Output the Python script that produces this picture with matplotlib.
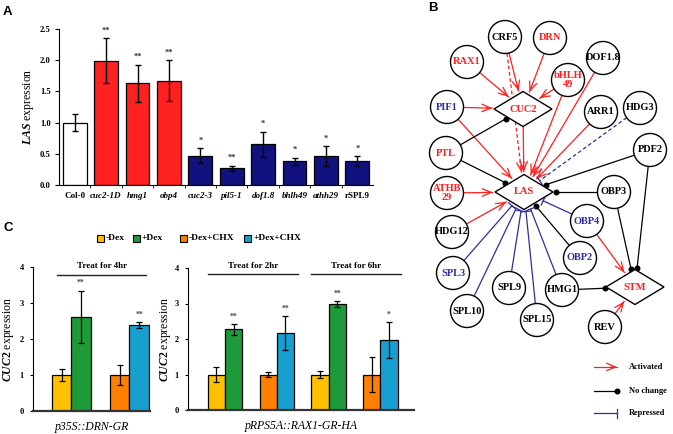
import numpy as np
import matplotlib.pyplot as plt
from matplotlib.patches import Circle, Polygon, Rectangle

plt.rcParams['font.family'] = 'Liberation Serif'
plt.rcParams['font.weight'] = 'bold'
plt.rcParams['mathtext.fontset'] = 'custom'
plt.rcParams['mathtext.it'] = 'Liberation Serif:italic:bold'
plt.rcParams['mathtext.rm'] = 'Liberation Serif:bold'
plt.rcParams['axes.linewidth'] = 0.8

W, H = 673, 434
RED = '#ff2020'
NAVY = '#12127e'
BLUE = '#2e2e9e'

# panel A - LAS expression in the mutants
a_lines = ['Col-0', 'cuc2-1D', 'hmg1', 'obp4', 'cuc2-3', 'pil5-1', 'dof1.8', 'bhlh49', 'athh29', 'rSPL9']
a_vals = [1.00, 1.99, 1.63, 1.67, 0.47, 0.27, 0.65, 0.38, 0.46, 0.38]
a_errs = [0.14, 0.36, 0.30, 0.33, 0.12, 0.04, 0.20, 0.06, 0.16, 0.08]
a_stars = ['', '**', '**', '**', '*', '**', '*', '*', '*', '*']
a_kind = ['wt', 'up', 'up', 'up', 'down', 'down', 'down', 'down', 'down', 'down']
a_italic = [False, True, True, True, True, True, True, True, True, False]

# panel C - CUC2 expression after induction
c_conds = ['-Dex', '+Dex', '-Dex+CHX', '+Dex+CHX']
c_colors = ['#ffc000', '#1f9a3a', '#ff8000', '#17a0cf']
drn_vals = [1.0, 2.62, 1.0, 2.38]
drn_errs = [0.18, 0.72, 0.28, 0.08]
drn_stars = ['', '**', '', '**']
rax2_vals = [1.0, 2.27, 1.0, 2.17]
rax2_errs = [0.20, 0.15, 0.07, 0.48]
rax2_stars = ['', '**', '', '**']
rax6_vals = [1.0, 2.98, 1.0, 1.97]
rax6_errs = [0.10, 0.08, 0.50, 0.50]
rax6_stars = ['', '**', '', '*']

# panel B - network (name, label, x, y, label colour), pixel layout
net_nodes = [
    ('CRF5', 'CRF5', 505, 37, 'black'),
    ('DRN', 'DRN', 550, 38, RED),
    ('RAX1', 'RAX1', 467, 62, RED),
    ('DOF1.8', 'DOF1.8', 603, 58, 'black'),
    ('bHLH49', 'bHLH\n49', 568, 80, RED),
    ('PIF1', 'PIF1', 447, 107, BLUE),
    ('ARR1', 'ARR1', 601, 112, 'black'),
    ('HDG3', 'HDG3', 640, 108, 'black'),
    ('PTL', 'PTL', 446, 153, RED),
    ('PDF2', 'PDF2', 650, 150, 'black'),
    ('ATHB29', 'ATHB\n29', 447, 193, RED),
    ('OBP3', 'OBP3', 614, 192, 'black'),
    ('HDG12', 'HDG12', 452, 232, 'black'),
    ('OBP4', 'OBP4', 587, 221, BLUE),
    ('OBP2', 'OBP2', 580, 258, BLUE),
    ('SPL3', 'SPL3', 453, 273, BLUE),
    ('SPL9', 'SPL9', 509, 288, 'black'),
    ('HMG1', 'HMG1', 562, 290, 'black'),
    ('SPL10', 'SPL10', 467, 311, 'black'),
    ('SPL15', 'SPL15', 537, 320, 'black'),
    ('REV', 'REV', 605, 327, 'black'),
]
net_diamonds = [('CUC2', 523, 109), ('LAS', 524, 192), ('STM', 635, 287)]
# (source, target, kind, dashed)
net_edges = [
    ('RAX1', 'CUC2', 'act', False), ('CRF5', 'CUC2', 'act', False),
    ('DRN', 'CUC2', 'act', False), ('bHLH49', 'CUC2', 'act', False),
    ('PIF1', 'CUC2', 'act', False), ('PIF1', 'LAS', 'act', False),
    ('CRF5', 'LAS', 'act', True), ('CUC2', 'LAS', 'act', False),
    ('bHLH49', 'LAS', 'act', False), ('DOF1.8', 'LAS', 'act', False),
    ('ARR1', 'LAS', 'act', False), ('ATHB29', 'LAS', 'act', False),
    ('HDG12', 'LAS', 'act', False), ('OBP4', 'STM', 'act', False),
    ('REV', 'STM', 'act', False),
    ('PTL', 'CUC2', 'none', False), ('PTL', 'LAS', 'none', False),
    ('PDF2', 'LAS', 'none', False), ('OBP3', 'LAS', 'none', False),
    ('OBP2', 'LAS', 'none', False), ('OBP3', 'STM', 'none', False),
    ('PDF2', 'STM', 'none', False), ('HMG1', 'STM', 'none', False),
    ('HDG3', 'LAS', 'rep', True), ('OBP4', 'LAS', 'rep', False),
    ('SPL3', 'LAS', 'rep', False), ('SPL10', 'LAS', 'rep', False),
    ('SPL9', 'LAS', 'rep', False), ('SPL15', 'LAS', 'rep', False),
    ('HMG1', 'LAS', 'rep', False),
]

R = 16.5
DA, DB = 29, 17.5

fig = plt.figure(figsize=(W / 100, H / 100), dpi=100)


def px_axes(x0, y0, x1, y1):
    return fig.add_axes([x0 / W, 1 - y1 / H, (x1 - x0) / W, (y1 - y0) / H])


# ---------------- panel A
ax = px_axes(59, 29, 373, 185)
x = np.arange(len(a_lines))
cols = [{'wt': 'white', 'up': RED, 'down': NAVY}[k] for k in a_kind]
ax.bar(x, a_vals, 0.76, yerr=a_errs, color=cols, edgecolor='black', linewidth=0.9,
       error_kw=dict(ecolor='black', elinewidth=1, capsize=2.5, capthick=1))
for xi, v, e, s in zip(x, a_vals, a_errs, a_stars):
    ax.text(xi, v + e + 0.06, s, ha='center', va='bottom', fontsize=6, color='#333333')
ax.set_xlim(-0.5, 9.5)
ax.set_ylim(0, 2.5)
ax.set_yticks(np.arange(0, 2.51, 0.5))
ax.set_yticklabels([f'{t:.1f}' for t in np.arange(0, 2.51, 0.5)], fontsize=6.2)
ax.set_xticks(x)
ax.set_xticklabels(a_lines, fontsize=6.5)
for lab, it in zip(ax.get_xticklabels(), a_italic):
    lab.set_style('italic' if it else 'normal')
ax.set_xticks(x[:-1] + 0.5, minor=True)
ax.tick_params(axis='x', which='major', length=0, pad=5)
ax.tick_params(axis='x', which='minor', length=2.5, direction='out')
ax.tick_params(axis='y', length=3, direction='out', pad=3)
ax.spines['top'].set_visible(False)
ax.spines['right'].set_visible(False)
ax.set_ylabel(r'$\mathit{LAS}$ expression', fontsize=8.5, labelpad=2.5)


# ---------------- panel C
def c_bars(ax, pos, vals, errs, stars):
    ax.bar(pos, vals, 1.0, yerr=errs, color=c_colors, edgecolor='black', linewidth=0.9,
           error_kw=dict(ecolor='black', elinewidth=0.9, capsize=2, capthick=0.9))
    for p, v, e, s in zip(pos, vals, errs, stars):
        ax.text(p, v + e + 0.1, s, ha='center', va='bottom', fontsize=5.5, color='#444444')


def c_style(ax, xlabel, pad):
    ax.set_ylim(0, 4)
    ax.set_yticks(range(5))
    ax.set_yticklabels([str(i) for i in range(5)], fontsize=6)
    ax.set_xticks([])
    ax.tick_params(axis='y', length=2.5, direction='out', pad=4)
    ax.spines['top'].set_visible(False)
    ax.spines['right'].set_visible(False)
    ax.spines['bottom'].set_linewidth(1.6)
    ax.spines['bottom'].set_color('#333333')
    ax.set_ylabel(r'$\mathit{CUC2}$ expression', fontsize=8.5, labelpad=pad)
    ax.set_xlabel(xlabel, fontsize=8.5, style='italic', labelpad=7)


def treat(ax, x0, x1, ly, ty, text):
    ax.plot([x0, x1], [ly, ly], color='#222222', lw=1, clip_on=False)
    ax.text((x0 + x1) / 2, ty, text, ha='center', va='center', fontsize=6.5)


axl = px_axes(33, 267, 150, 411)
c_bars(axl, [0, 1, 3, 4], drn_vals, drn_errs, drn_stars)
axl.set_xlim(-1.47, 4.56)
c_style(axl, 'p35S::DRN-GR', 3)
treat(axl, -0.23, 4.36, 3.78, 4.04, 'Treat for 4hr')

axr = px_axes(188, 268, 414, 410)
c_bars(axr, [0, 1, 3, 4], rax2_vals, rax2_errs, rax2_stars)
c_bars(axr, [6, 7, 9, 10], rax6_vals, rax6_errs, rax6_stars)
axr.set_xlim(-1.65, 11.45)
c_style(axr, 'pRPS5A::RAX1-GR-HA', 1)
treat(axr, -0.5, 4.72, 3.83, 4.07, 'Treat for 2hr')
treat(axr, 5.5, 10.7, 3.83, 4.07, 'Treat for 6hr')

# ---------------- overlay: letters, legend of C, network B
ov = fig.add_axes([0, 0, 1, 1])
ov.set_xlim(0, W)
ov.set_ylim(H, 0)
ov.axis('off')

for lt, lx, ly in [('A', 3, 12), ('B', 428, 8), ('C', 3, 228)]:
    ov.text(lx, ly, lt, fontsize=9.5, family='Liberation Sans', weight='bold', va='center')

for (cx, cond, col) in zip([100, 136, 183, 247], c_conds, c_colors):
    ov.add_patch(Rectangle((cx - 3.5, 234.5), 7, 7, facecolor=col, edgecolor='black', lw=0.8))
    ov.text(cx + 6, 238, cond, fontsize=6.8, va='center', ha='left')

shapes = {}
for name, label, nx, ny, col in net_nodes:
    shapes[name] = ('c', nx, ny)
    ov.add_patch(Circle((nx, ny), R, facecolor='white', edgecolor='black', lw=1.0, zorder=3))
    ov.text(nx, ny, label, ha='center', va='center', fontsize=7.5, color=col,
            linespacing=1.0, zorder=4)
for name, nx, ny in net_diamonds:
    shapes[name] = ('d', nx, ny)
    ov.add_patch(Polygon([(nx - DA, ny), (nx, ny - DB), (nx + DA, ny), (nx, ny + DB)],
                         closed=True, facecolor='white', edgecolor='black', lw=1.0, zorder=3))
    ov.text(nx, ny, name, ha='center', va='center', fontsize=7.5, color=RED, zorder=4)


def border(name, tx, ty, gap):
    kind, cx, cy = shapes[name]
    dx, dy = tx - cx, ty - cy
    n = np.hypot(dx, dy)
    ux, uy = dx / n, dy / n
    if kind == 'c':
        t = R
    else:
        t = 1 / (abs(ux) / DA + abs(uy) / DB)
    return cx + (t + gap) * ux, cy + (t + gap) * uy


def draw_link(ax, sx, sy, ex, ey, kind, dashed):
    ls = (0, (3, 2)) if dashed else '-'
    ux, uy = ex - sx, ey - sy
    n = np.hypot(ux, uy)
    ux, uy = ux / n, uy / n
    if kind == 'act':
        ax.plot([sx, ex], [sy, ey], color=RED, lw=0.9, ls=ls, zorder=2)
        ax.annotate('', xy=(ex, ey), xytext=(ex - 6 * ux, ey - 6 * uy),
                    arrowprops=dict(arrowstyle='->,head_length=0.7,head_width=0.3', color=RED,
                                    lw=0.9, shrinkA=0, shrinkB=0, mutation_scale=9), zorder=2)
    elif kind == 'none':
        ax.plot([sx, ex], [sy, ey], color='black', lw=0.9, ls=ls, zorder=2)
        ax.plot(ex, ey, 'o', ms=3.3, color='black', zorder=2)
    else:
        ax.plot([sx, ex], [sy, ey], color=BLUE, lw=0.9, ls=ls, zorder=2)
        ax.plot([ex - 4.5 * uy, ex + 4.5 * uy], [ey + 4.5 * ux, ey - 4.5 * ux],
                color=BLUE, lw=0.9, zorder=2)


for src, dst, kind, dashed in net_edges:
    _, scx, scy = shapes[src]
    _, dcx, dcy = shapes[dst]
    sx, sy = border(src, dcx, dcy, 0)
    ex, ey = border(dst, scx, scy, 3)
    draw_link(ov, sx, sy, ex, ey, kind, dashed)

# legend of B
for ly, kind, txt in [(367, 'act', 'Activated'), (391, 'none', 'No change'), (413, 'rep', 'Repressed')]:
    draw_link(ov, 594, ly, 617, ly, kind, False)
    ov.text(629, ly, txt, fontsize=6, va='center', ha='left')

fig.savefig('out.png', dpi=100)
